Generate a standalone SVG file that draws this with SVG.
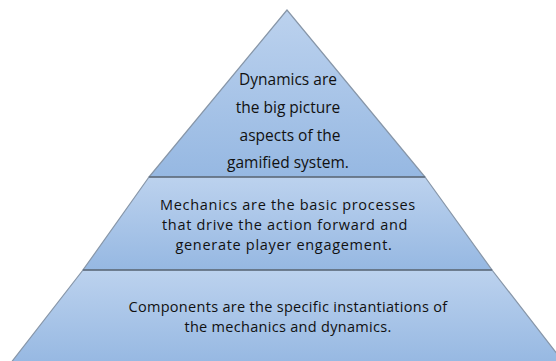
<svg xmlns="http://www.w3.org/2000/svg" width="556" height="361" viewBox="0 0 556 361">
<defs>
<linearGradient id="g1" x1="0" y1="0" x2="0" y2="1">
<stop offset="0" stop-color="#bcd2ee"/>
<stop offset="1" stop-color="#96b8e2"/>
</linearGradient>
<style>
.tier{fill:url(#g1);stroke:#8796a8;stroke-width:1.2}
.sep{stroke:#5d6b7d;stroke-width:1.6;fill:none}
.t{font-family:"Open Sans","Liberation Sans",sans-serif;font-size:15.5px;fill:#111;text-anchor:middle}
.m{font-size:14.5px;letter-spacing:0.7px}
.b{font-size:14.5px;letter-spacing:0.3px}
</style>
</defs>
<rect width="556" height="361" fill="#ffffff"/>
<g id="tier-dynamics">
<polygon class="tier" points="287,10 149,177 425,177"/>
<text class="t" x="288" y="85">Dynamics are</text>
<text class="t" x="288" y="113">the big picture</text>
<text class="t" x="290" y="141">aspects of the</text>
<text class="t" x="288" y="168">gamified system.</text>
</g>
<g id="tier-mechanics">
<polygon class="tier" points="149,177 425,177 492,270 83,270"/>
<text class="t m" x="288" y="210">Mechanics are the basic processes</text>
<text class="t m" x="285" y="230">that drive the action forward and</text>
<text class="t m" x="284" y="250">generate player engagement.</text>
</g>
<g id="tier-components">
<polygon class="tier" points="83,270 492,270 565,364 10,364"/>
<text class="t b" x="288" y="312">Components are the specific instantiations of</text>
<text class="t b" x="288" y="332">the mechanics and dynamics.</text>
</g>
<g id="connectors">
<line class="sep" x1="149" y1="177" x2="425" y2="177"/>
<line class="sep" x1="83" y1="270" x2="492" y2="270"/>
</g>
</svg>
